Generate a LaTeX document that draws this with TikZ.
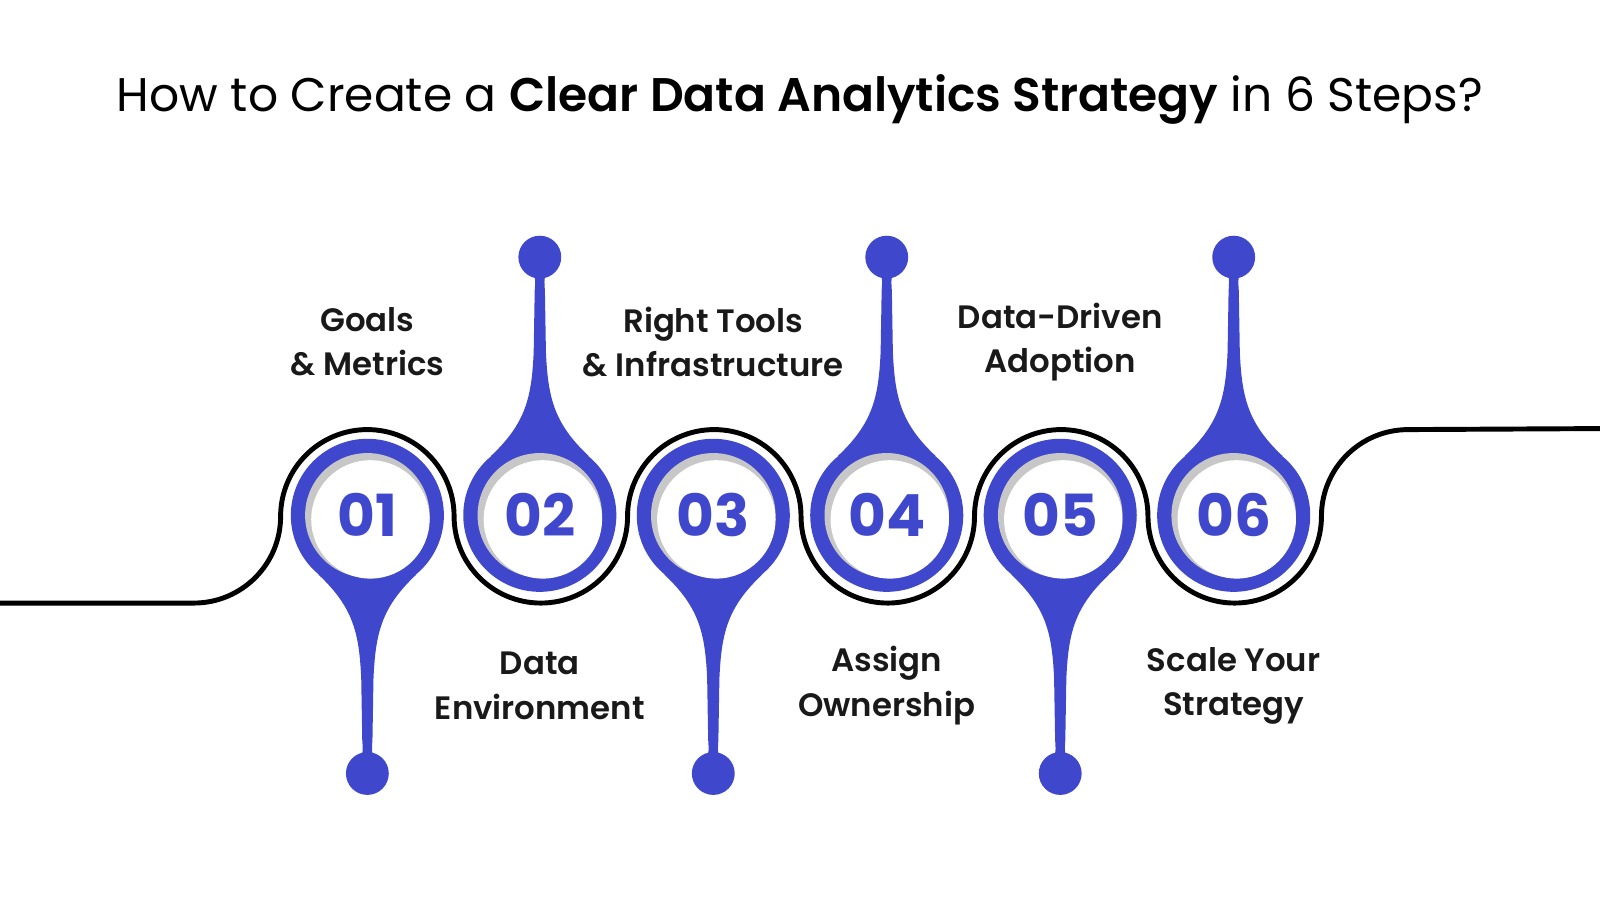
\documentclass[tikz,border=0pt]{standalone}
\usepackage{fontspec}
\setmainfont{Poppins}[BoldFont={Poppins SemiBold}]
\newfontfamily\numfont{Poppins Bold}
\definecolor{stepblue}{HTML}{3F48CC}
\begin{document}
\begin{tikzpicture}[x=0.0102cm,y=-0.0102cm]
    \tikzstyle{label} = [align=center, font=\fontsize{9.2}{12.6}\selectfont\bfseries, text=black!90]
    \tikzstyle{num} = [font=\fontsize{16.5}{18}\selectfont\numfont, text=stepblue]
    \useasboundingbox (0,0) rectangle (1568,882);

    \node(title) at (784,97) [font=\fontsize{13.4}{16}\selectfont]
        {How to Create a \textbf{Clear Data Analytics Strategy} in 6 Steps?};

    % serpentine line
    \draw[line width=1.4pt] (0,591) -- (190,591) arc (90:0:85)
        arc (180:360:85) arc (180:0:85) arc (180:360:85)
        arc (180:0:85) arc (180:360:85) arc (180:0:85)
        arc (180:270:85) -- (1568,420);

    % pins, d = 1 stem down, d = -1 stem up
    \foreach \i/\cx/\d in {1/360/1, 2/529/-1, 3/699/1, 4/869/-1, 5/1039/1, 6/1209/-1} {
        \fill[stepblue] (\cx-48,505+\d*58) .. controls (\cx-14,505+\d*90)
            and (\cx-8,505+\d*115) .. (\cx-6,505+\d*160) -- (\cx-5,505+\d*220)
            .. controls (\cx-4,505+\d*235) .. (\cx-14,505+\d*245)
            -- (\cx+14,505+\d*245) .. controls (\cx+4,505+\d*235) .. (\cx+5,505+\d*220)
            -- (\cx+6,505+\d*160) .. controls (\cx+8,505+\d*115)
            and (\cx+14,505+\d*90) .. (\cx+48,505+\d*58) -- cycle;
        \fill[stepblue] (\cx,505+\d*253) circle (21);
        \fill[stepblue] (\cx,505) circle (75);
        \fill[black!22] (\cx,505) circle (61);
        \fill[white] (\cx+3,509) circle (58);
        \node(step\i) [num] at (\cx,505) {0\i};
    }

    \node(goals) [label] at (360,335) {Goals\\ \& Metrics};
    \node(environment) [label] at (529,672) {Data\\ Environment};
    \node(tools) [label] at (699,335) {Right Tools\\ \& Infrastructure};
    \node(ownership) [label] at (869,672) {Assign\\ Ownership};
    \node(adoption) [label] at (1039,335) {Data-Driven\\ Adoption};
    \node(scale) [label] at (1209,672) {Scale Your\\ Strategy};
\end{tikzpicture}
\end{document}
